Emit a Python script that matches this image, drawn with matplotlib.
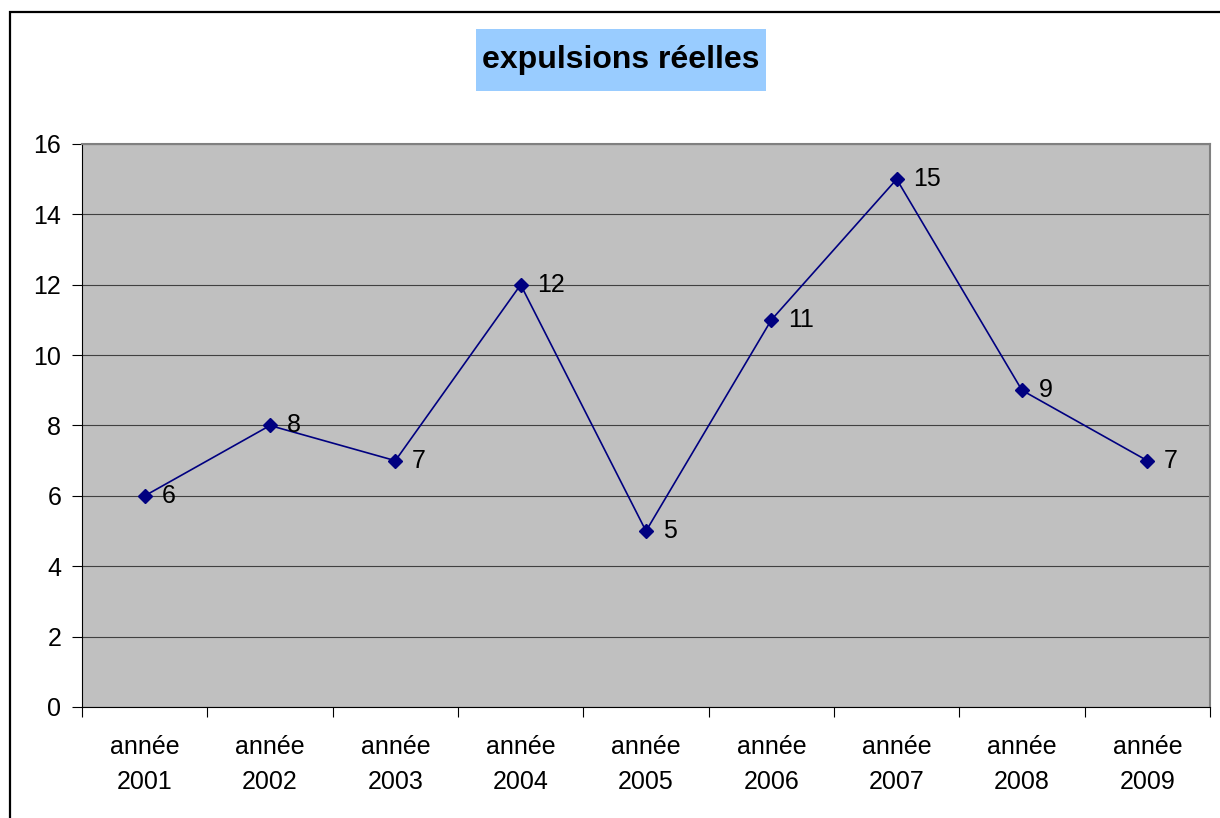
import matplotlib
matplotlib.use("Agg")
import matplotlib.pyplot as plt
from matplotlib.patches import Rectangle

categories = ["année\n2001", "année\n2002", "année\n2003", "année\n2004", "année\n2005",
              "année\n2006", "année\n2007", "année\n2008", "année\n2009"]
values = [6, 8, 7, 12, 5, 11, 15, 9, 7]
yticks = [0, 2, 4, 6, 8, 10, 12, 14, 16]
title = "expulsions réelles"

plt.rcParams['font.family'] = ['Liberation Sans', 'DejaVu Sans']

W, H = 1220, 818
fig = plt.figure(figsize=(W / 100, H / 100), dpi=100)
fig.patch.set_facecolor("white")

# outer chart border
fig.patches.append(Rectangle((10 / W, -0.2), 2.0, (H - 12) / H + 0.2, transform=fig.transFigure,
                             fill=False, edgecolor="black", linewidth=1.6, zorder=0))

# title box
fig.patches.append(Rectangle((476 / W, 1 - 91 / H), (766 - 476) / W, (91 - 29) / H,
                             transform=fig.transFigure, facecolor="#99CCFF", edgecolor="none", zorder=1))

ax = fig.add_axes([82 / W, 1 - 707 / H, (1210 - 82) / W, (707 - 144) / H])
ax.set_facecolor("#C0C0C0")

x = list(range(len(values)))
ax.plot(x, values, color="#000080", linewidth=1.2, marker="D", markersize=7,
        markerfacecolor="#000080", markeredgecolor="#000080", zorder=3)
for xi, v in zip(x, values):
    ax.annotate(str(v), (xi, v), xytext=(12, 0), textcoords="offset points",
                ha="left", va="center", fontsize=18, color="black", zorder=4)

ax.set_xlim(-0.5, len(values) - 0.5)
ax.set_ylim(0, 16)
ax.set_yticks(yticks)
ax.set_yticklabels([str(t) for t in yticks], fontsize=18)
ax.tick_params(axis="y", direction="out", length=7, width=0.8, pad=8, colors="black")

ax.set_xticks(x)
ax.set_xticklabels(categories, fontsize=18, linespacing=1.6)
ax.tick_params(axis="x", which="major", length=0, pad=20)
ax.set_xticks([i - 0.5 for i in range(len(values) + 1)], minor=True)
ax.tick_params(axis="x", which="minor", direction="out", length=7, width=0.8, color="black")

ax.yaxis.grid(True, color="#404040", linewidth=0.8)
ax.set_axisbelow(True)

for side in ["top", "right"]:
    ax.spines[side].set_color("#808080")
    ax.spines[side].set_linewidth(1.5)
for side in ["left", "bottom"]:
    ax.spines[side].set_color("black")
    ax.spines[side].set_linewidth(0.8)

fig.text(621 / W, 1 - 60 / H, title, ha="center", va="center", fontsize=23, fontweight="bold",
         zorder=2)

fig.savefig("out.png", dpi=100)
